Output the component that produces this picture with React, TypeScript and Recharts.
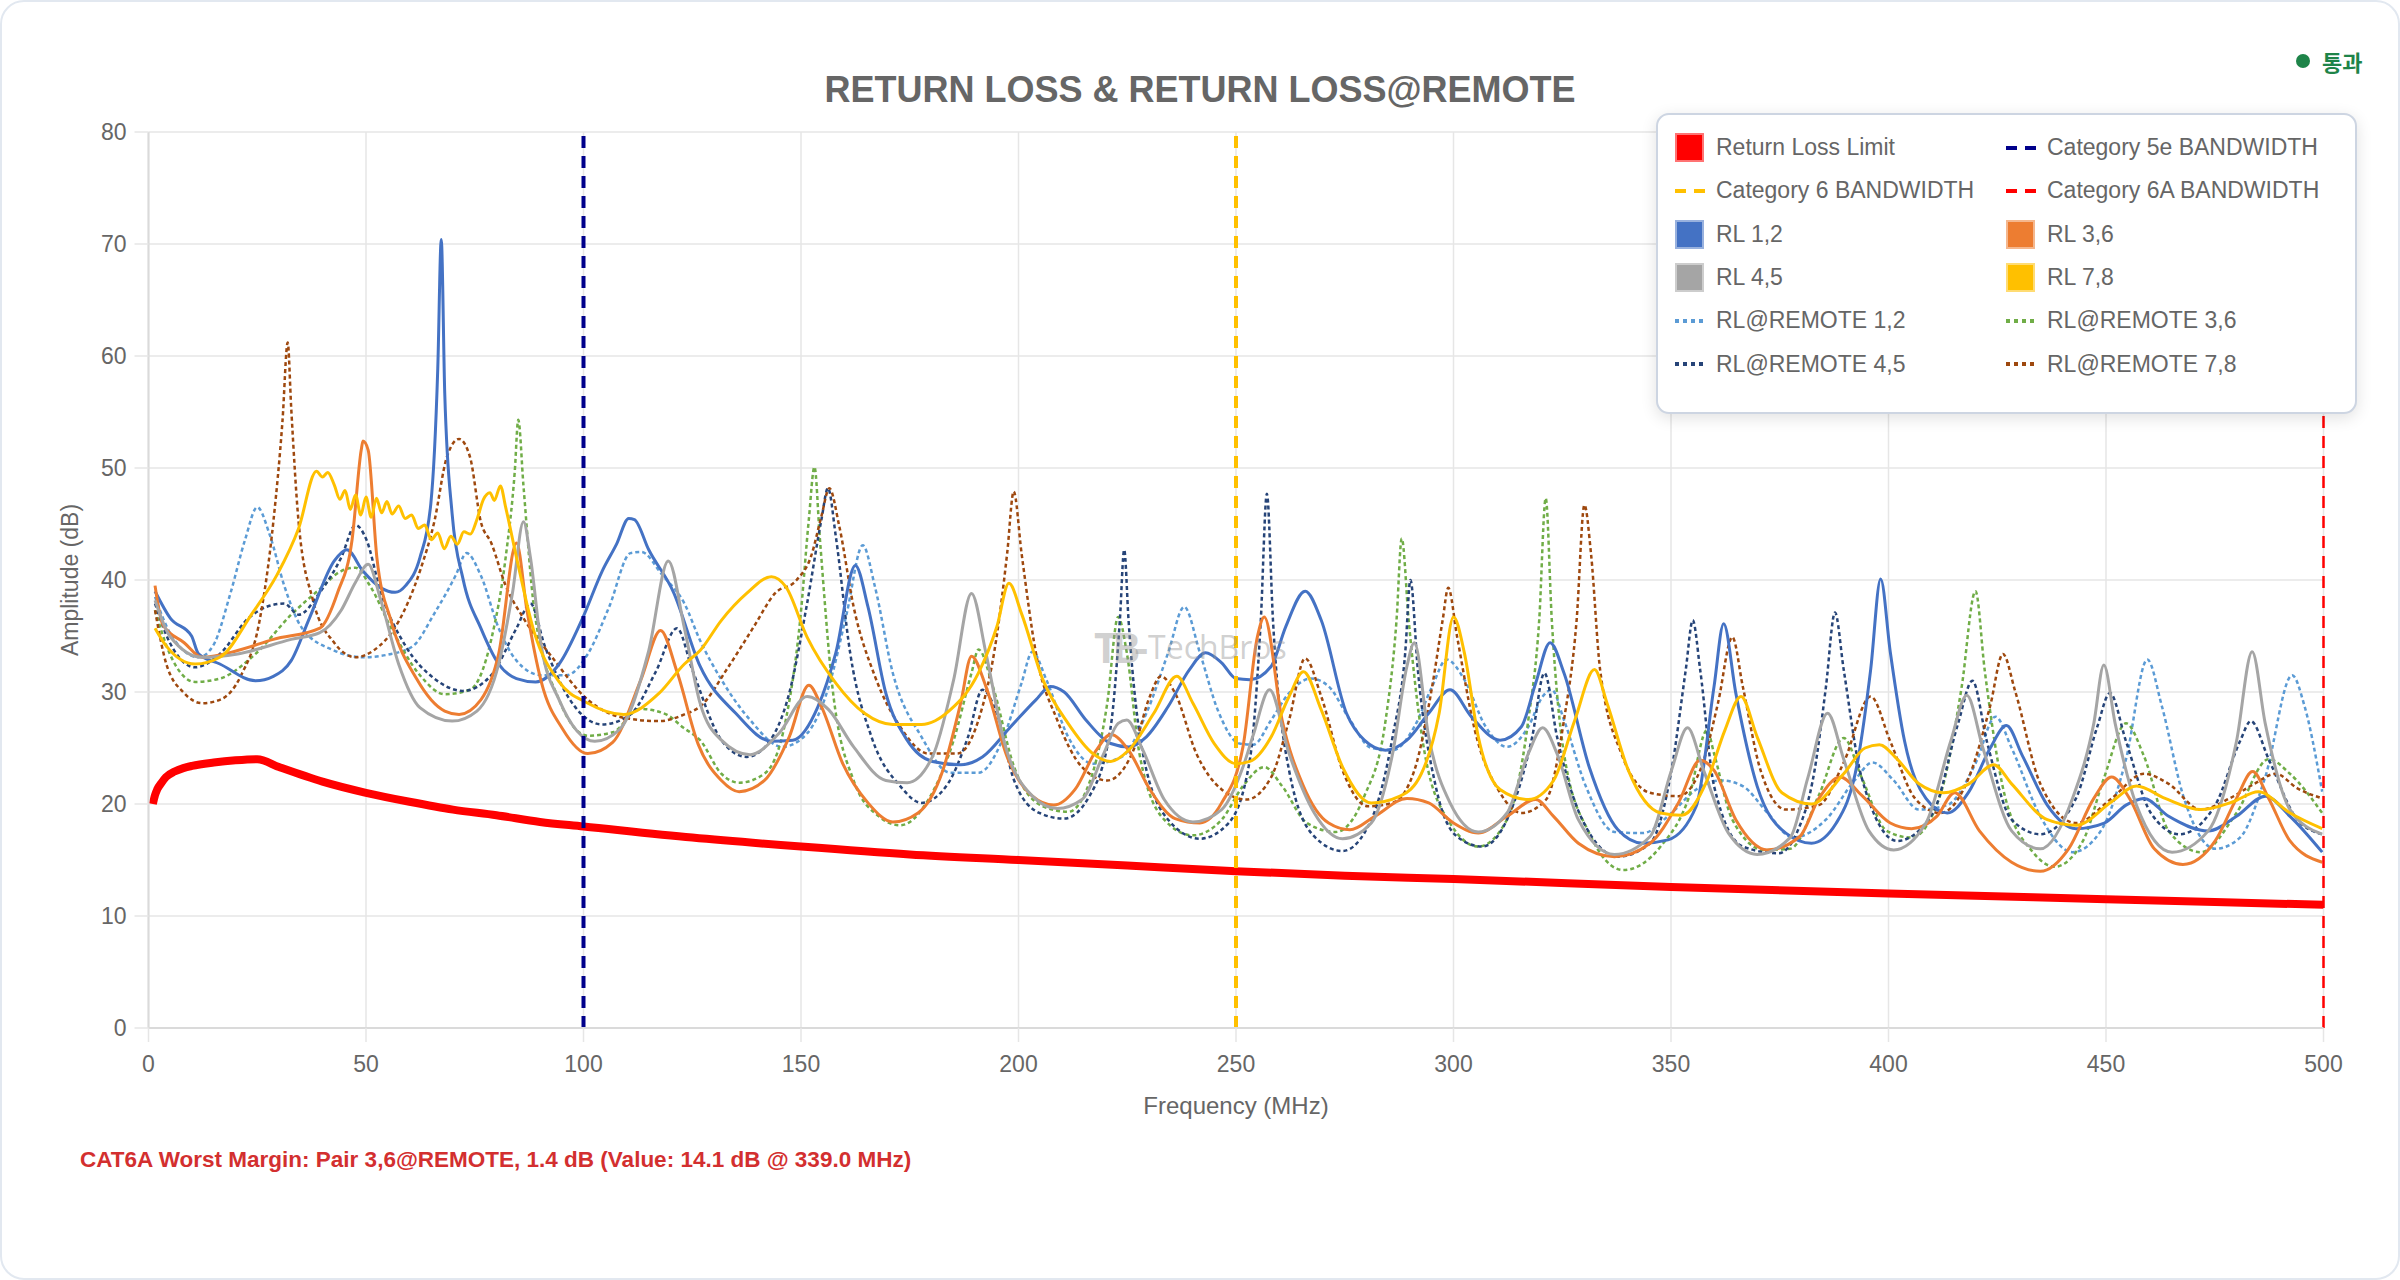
import React from 'react';
import { LineChart, Line, XAxis, YAxis, CartesianGrid, ReferenceLine, Label } from 'recharts';

type Pt = [number, number];

const FONT = '"Liberation Sans", Arial, Helvetica, sans-serif';

const freqTicks = [0, 50, 100, 150, 200, 250, 300, 350, 400, 450, 500];
const ampTicks = [0, 10, 20, 30, 40, 50, 60, 70, 80];

// frequency (MHz), amplitude (dB)
const limitLine: Pt[] = [
  [1, 20], [1.5, 20.8], [2, 21.3], [3, 21.9], [4, 22.4], [6, 22.9], [8, 23.2], [10, 23.4], [15, 23.7],
  [20, 23.9], [25, 24], [30, 23.3], [40, 22], [50, 21], [60, 20.2], [70, 19.5], [80, 19], [90, 18.4],
  [100, 18], [125, 17], [150, 16.2], [175, 15.5], [200, 15], [225, 14.5], [250, 14], [275, 13.6],
  [300, 13.3], [350, 12.6], [400, 12], [450, 11.5], [500, 11],
];

const rl12: Pt[] = [
  [1.5, 39], [5, 36.6], [9.9, 35], [11.5, 33.4], [16.4, 32.5], [24.6, 31], [28.7, 31.4], [32.8, 32.8],
  [37, 36.6], [42.7, 41.7], [45.6, 42.7], [49.3, 40.8], [53.4, 39.3], [56.7, 38.9], [59.1, 39.5],
  [62.4, 42], [64.9, 46.8], [66.5, 58.9], [67.3, 70.4], [68.1, 56.7], [69.8, 45.9], [72.3, 40.1],
  [76.4, 35.7], [80.5, 32.5], [84.6, 31.2], [89, 30.9], [94.4, 32.5], [99.8, 36.6], [104.3, 40.8],
  [107.6, 43.2], [110.4, 45.5], [111.7, 45.4], [115, 42.7], [120.7, 38.9], [126.8, 32.3], [135, 28.1],
  [143.2, 25.6], [148.1, 25.7], [153.9, 28.7], [158, 33.5], [162.5, 41.3], [165.4, 37.6], [169.5, 29.9],
  [174.4, 25.7], [180.2, 23.8], [186.7, 23.5], [191.7, 24.2], [198.2, 26.9], [204, 29.3], [207.3, 30.5],
  [210.5, 30], [215.5, 27.5], [221.2, 25.4], [225.3, 25.1], [229.4, 26], [234.4, 28.7], [239.3, 32],
  [243, 33.5], [246.7, 32.6], [250, 31.2], [253.2, 31.1], [258.1, 32.3], [261.4, 35.8], [265.9, 39],
  [269.6, 36.4], [275.4, 28.1], [279.5, 25.7], [284.4, 24.8], [289.3, 25.7], [294.3, 28.1], [299.2, 30.2],
  [304.1, 27.8], [310.7, 25.7], [315.6, 26.9], [318.9, 30.8], [322.2, 34.4], [325.4, 31.7], [331.2, 23.3],
  [337.8, 17.7], [343.5, 16.5], [349.3, 16.8], [355.8, 19.8], [359.9, 30.5], [362.1, 36.1], [364.9, 29.9],
  [369.8, 21.6], [376.4, 17.4], [382.3, 16.5], [388, 18.3], [393, 24], [395.9, 32], [398.2, 40.1],
  [400.4, 33.6], [403.7, 25.6], [408.6, 20.5], [413.5, 19.2], [418.5, 21.1], [423.4, 25], [427.1, 27],
  [430.8, 24.3], [436.5, 19.9], [443.1, 17.8], [449.6, 18.3], [454.6, 19.9], [458.7, 20.5], [464.4, 18.9],
  [473.5, 17.6], [480, 18.9], [486.6, 20.7], [492.3, 18.9], [499.7, 15.7],
];

const rl36: Pt[] = [
  [1.5, 39.5], [3.3, 36], [8.2, 34.4], [12.3, 33.1], [20.5, 33.7], [28.7, 34.7], [39.4, 35.7], [43.5, 38.9],
  [46.8, 43.6], [48.9, 51.6], [49.3, 52.4], [50.5, 51.6], [52.5, 42], [55.8, 36.3], [61.6, 31.2],
  [68.1, 28.3], [71.4, 28], [76.4, 29.3], [80.5, 33.4], [84.6, 43.3], [87, 37.3], [90.3, 30.9],
  [95.2, 26.7], [101, 24.5], [106.7, 25.5], [113.3, 31.2], [117.7, 35.5], [121.5, 31.8], [126.4, 25.3],
  [131.7, 22.1], [135.8, 21.1], [141.6, 22.1], [147.3, 26], [151.8, 30.6], [154.7, 28.7], [159.6, 23.6],
  [165.4, 20.1], [171.1, 18.4], [176.9, 19.2], [182.6, 23], [186.7, 29], [189.2, 33.2], [192.5, 30.5],
  [197.4, 24.2], [203.2, 20.7], [208.1, 19.9], [213, 21.3], [217.9, 24.8], [221.2, 26.2], [225.3, 24.8],
  [230.2, 21.3], [236, 18.7], [241.7, 18.3], [246.7, 20.1], [251.6, 25.1], [254.9, 34.9], [256.5, 36.7],
  [260.6, 27.5], [265.5, 21.6], [271.3, 18.3], [276.2, 17.7], [281.9, 18.9], [289.3, 20.5], [294.3, 20.1],
  [300, 18.3], [305.7, 17.4], [312.3, 18.9], [318.9, 20.4], [323, 18.9], [328.7, 16.5], [337, 15.3],
  [345.2, 16.5], [351.7, 20.1], [356.7, 23.9], [359.9, 23], [364.9, 18.6], [372.2, 15.9], [379.6, 17.1],
  [384, 20.5], [388.9, 22.4], [393.8, 20.8], [400.4, 18.3], [405.3, 17.8], [411.1, 18.9], [415.2, 21],
  [420.9, 17.6], [428.3, 14.8], [434.9, 14], [441.4, 16], [447.2, 20.5], [451.3, 22.4], [455.4, 20.5],
  [461.1, 16], [467.7, 14.6], [475.1, 16.7], [480, 20.5], [483.7, 22.9], [487.4, 20.5], [492.3, 16.7],
  [499.7, 14.8],
];

const rl45: Pt[] = [
  [1.5, 38.2], [4.9, 35], [12.3, 33.1], [20.5, 33.4], [32.8, 34.7], [39.4, 35.3], [44.3, 37.3], [47.6, 39.8],
  [50.5, 41.4], [53.4, 38.2], [57.5, 32.5], [62.4, 28.6], [69.8, 27.4], [75.5, 28.3], [80.5, 32.5],
  [83.7, 38.9], [86.2, 45.2], [87.8, 42], [90.3, 34.1], [94.4, 29.3], [102.6, 25.6], [108.4, 26.7],
  [115, 33.7], [119.5, 41.7], [123.2, 35.7], [126.8, 29], [131.7, 25.7], [138.3, 24.4], [144.9, 26.3],
  [151.4, 29.6], [156.4, 28.4], [162.1, 25.1], [169.5, 22.1], [174.4, 21.9], [180.2, 24.2], [185.1, 31.1],
  [189.2, 38.8], [192.5, 33.5], [196.6, 25.7], [203.2, 20.7], [208.9, 19.6], [214.6, 20.4], [219.6, 24.5],
  [222.9, 27.2], [224.9, 27.5], [228.6, 24.8], [233.5, 20.4], [240.1, 18.4], [246.7, 19.5], [251.6, 23.3],
  [254, 26.2], [257.7, 30.2], [262.2, 24.5], [268, 19.2], [274.5, 16.9], [281.1, 18.3], [286, 24.5],
  [289.3, 32.3], [291, 34.4], [294.3, 26], [299.2, 20.1], [305.7, 17.5], [312.3, 19.2], [317.2, 24.5],
  [320.5, 26.8], [323.8, 24.5], [328.7, 18.6], [337, 15.5], [345.2, 17.1], [350.1, 23], [353.8, 26.8],
  [357.5, 23], [363.2, 17.4], [369.8, 15.5], [377.4, 17], [381.5, 22.4], [386, 28.1], [389.7, 24],
  [395.5, 17.6], [401.2, 15.9], [408.6, 18.3], [414.3, 25.6], [418, 29.7], [421.7, 25], [428.3, 17.6],
  [434.9, 16], [442.3, 20.5], [447.2, 27.2], [449.5, 32.4], [452.1, 27.2], [457, 19.9], [465.2, 15.7],
  [473.5, 17.6], [480, 25.6], [483.6, 33.6], [486.6, 27.2], [492.3, 19.5], [499.7, 17.3],
];

const rl78: Pt[] = [
  [1.5, 35.7], [4.1, 34.1], [10.7, 32.5], [16.4, 33.1], [23.8, 37], [29.6, 40.5], [34.5, 44.6], [38.6, 49.7],
  [40, 49.2], [41.2, 49.6], [42.7, 48.5], [44, 47.2], [45.2, 48], [46.4, 46.3], [47.6, 47.6], [48.8, 45.8],
  [50, 47.4], [51.2, 45.6], [52.4, 47.3], [53.6, 46], [54.8, 47], [56, 45.9], [57.5, 46.6], [59, 45.5],
  [60.5, 45.8], [62, 44.6], [63.5, 44.9], [65, 43.6], [66.5, 44.2], [68, 42.8], [69.5, 43.9], [71, 43.2],
  [72.5, 44.3], [74, 44.1], [75.5, 45.4], [77, 47.2], [78.5, 47.8], [79.5, 47.1], [80.9, 48.4], [82.1, 46.5],
  [84.6, 42], [88.7, 35.3], [94.4, 30.9], [101, 29], [109.2, 28], [117.4, 29.9], [123.2, 32.5],
  [126.8, 33.7], [131.7, 36.4], [137.5, 38.8], [143.2, 40.3], [146.5, 39.4], [151.4, 34.9], [158, 30.8],
  [164.6, 28.1], [171.1, 27.1], [177.7, 27.1], [184.3, 28.4], [190.8, 31.7], [195, 35.8], [197.8, 39.7],
  [200.7, 37], [205.6, 31.1], [211.4, 27.2], [217.1, 24.5], [221.2, 23.8], [225.3, 24.8], [231.1, 28.1],
  [236.4, 31.4], [240.1, 29], [245, 25.4], [250, 23.6], [253.2, 23.8], [258.1, 26], [262.2, 29.6],
  [265.5, 31.8], [269.6, 28.4], [274.5, 23.3], [281.1, 20.1], [287.7, 20.7], [292.6, 22.7], [296.7, 28.1],
  [300, 36.7], [302.5, 33.5], [305.7, 26], [310.7, 21.3], [317.2, 20.4], [323, 22.1], [327.9, 27.5],
  [332.4, 32], [335.3, 29], [340.2, 23], [347.6, 19.2], [352.5, 19], [358.3, 22.1], [362.4, 26.6],
  [366.1, 29.6], [369.8, 26], [375.5, 21], [382.3, 20], [389.7, 22.7], [394.6, 25], [397.9, 25.3],
  [402, 24], [407, 21.8], [412.7, 21], [418.5, 21.8], [424.2, 23.5], [428.3, 21.8], [436.5, 18.6],
  [443.1, 18.1], [451.3, 20.2], [457, 21.6], [463.6, 20.5], [471.8, 19.5], [479.2, 20.2], [485, 21.1],
  [492.3, 19.2], [499.7, 17.8],
];

const remote12: Pt[] = [
  [1.5, 38.5], [4.9, 35.3], [11.5, 33.1], [14.8, 34.1], [18.9, 38.9], [22.2, 43.6], [25, 46.5], [27.9, 44],
  [31.2, 39.5], [35.3, 35.7], [42.7, 33.7], [49.3, 33.1], [55.8, 33.4], [60.8, 34.1], [65.7, 37],
  [70.6, 40.4], [73.1, 42.4], [76.4, 40.4], [80.5, 35.7], [84.6, 32.8], [90.3, 31.5], [96.1, 31.5],
  [101, 33.4], [105.9, 37.6], [110.8, 42.4], [113.3, 42.5], [118.2, 40.4], [123.2, 37.9], [126.8, 34.6],
  [131.7, 31.1], [138.3, 27.5], [145.7, 25.1], [151.4, 26.3], [156.4, 30.5], [160.5, 37], [164.2, 43.1],
  [167, 39.4], [171.1, 31.7], [177.7, 26], [184.3, 22.8], [190.8, 22.8], [196.6, 26], [200.7, 30.8],
  [203.2, 33.6], [206.4, 31.1], [211.4, 26], [217.1, 23.6], [223.7, 24.2], [229.4, 28.1], [234.4, 33.5],
  [238.1, 37.6], [241.7, 33.5], [245.8, 28.4], [250.8, 25.4], [254, 25.3], [258.1, 27.5], [262.2, 29.9],
  [267.2, 31.2], [271.3, 30.5], [276.2, 27.5], [281.1, 25], [286, 24.8], [291, 26.9], [295.1, 30.5],
  [298.4, 32.9], [302.5, 31.1], [307.4, 26.9], [312.3, 25.1], [317.2, 26.9], [320.5, 29.6], [322.6, 30.2],
  [325.4, 27.5], [330.4, 21.6], [337, 17.5], [343.5, 17.4], [350.1, 19.2], [355.8, 21.3], [361.6, 22.1],
  [366.5, 21.6], [372.2, 19.2], [378, 17], [385.6, 18.6], [392.2, 22.1], [396.3, 23.7], [401.2, 22.1],
  [407, 19.5], [413.5, 19.9], [420.1, 23.7], [424.6, 27.8], [428.3, 25], [434.9, 18.9], [442.3, 15.7],
  [448.8, 17.6], [454.6, 24], [459.5, 32.9], [462.8, 28.8], [467.7, 20.8], [475.1, 16], [480.8, 17],
  [486.6, 22.4], [492.8, 31.5], [495.6, 28.8], [499.7, 21.1],
];

const remote36: Pt[] = [
  [1.5, 37.3], [4.9, 33.4], [10.7, 30.9], [16.4, 31.2], [24.6, 33.4], [32.8, 36.9], [39.4, 39.2], [44.3, 40.8],
  [47.6, 41.1], [50.9, 39.5], [55.8, 35.7], [62.4, 31.5], [68.1, 29.8], [73.9, 30.2], [78.8, 34.7],
  [82.1, 42], [84.2, 49.7], [85, 54.3], [86.2, 48.4], [88.7, 37.3], [94.4, 29.3], [101, 26.1],
  [106.7, 26.4], [113, 28.5], [119, 28], [123, 26.8], [126.8, 25.7], [131.7, 22.7], [135.8, 21.9],
  [141.6, 22.7], [146.5, 27.5], [149.8, 36.4], [151.8, 45.4], [153.1, 50.1], [154.3, 43.9], [157.2, 30.5],
  [162.1, 22.1], [167.9, 18.9], [172.8, 18.1], [179.3, 20.4], [185.1, 25.7], [189.2, 31.7], [190.8, 33.8],
  [194.1, 30.5], [199, 23.3], [205.6, 19.8], [211.4, 19.3], [216.3, 21.9], [220.4, 29], [222.9, 36.7],
  [224.9, 33.5], [227.8, 24.5], [233.5, 18.6], [240.1, 17.2], [246.7, 18.6], [251.6, 21.6], [256.5, 23.3],
  [260.6, 21.6], [266.3, 18.3], [272.9, 17.5], [279.5, 20.7], [284.4, 27.5], [286.9, 36.4], [288.1, 43.7],
  [289.7, 36.4], [293.4, 24.5], [299.2, 18.3], [305.7, 16.2], [312.3, 18.6], [317.2, 27.5], [319.7, 36.4],
  [321.2, 47.3], [322.6, 36.4], [325.4, 24.5], [331.2, 17.4], [339, 14.1], [347.6, 16.2], [354.2, 20.7],
  [358.3, 26.6], [359.9, 24.5], [364.1, 18.6], [371.4, 15.9], [377.4, 16], [384, 20.8], [389.7, 25.9],
  [393.8, 22.4], [399.6, 17.6], [405.3, 17], [411.9, 20.8], [416.8, 30.4], [420, 39], [422.1, 32],
  [426.7, 20.8], [433.2, 15.7], [438.2, 14.4], [444.7, 16.7], [449.6, 22.4], [454.6, 27.2], [458.7, 24.3],
  [464.4, 17.6], [471.8, 15.7], [480, 19.2], [487.4, 24], [492.3, 22.7], [499.7, 19.2],
];

const remote45: Pt[] = [
  [1.5, 37.9], [4.9, 34.4], [10.7, 32.2], [16.4, 33.4], [23, 36.6], [27.1, 37.6], [31.2, 37.9], [34.5, 36.9],
  [39.4, 38.9], [44.3, 42], [47.6, 44.9], [50.1, 43.6], [53.4, 38.9], [59.1, 34.1], [65.7, 31.2],
  [72.3, 30.1], [78.8, 31.5], [84.6, 35.7], [87.8, 37.9], [91.1, 34.1], [96.9, 29.3], [104.3, 27.1],
  [110.8, 28], [116.6, 31.8], [121.5, 35.7], [125, 32], [131.7, 25.7], [137.5, 24.2], [142.4, 25.4],
  [147.3, 29.9], [151.4, 37.9], [154.7, 45.4], [156.2, 48.2], [158, 43.9], [161.3, 33.5], [166.2, 26],
  [172.8, 21.6], [177.7, 20.1], [183.4, 21.6], [188.4, 26], [191.7, 30.2], [195, 28.1], [199, 22.1],
  [204.8, 19.2], [210.5, 18.7], [216.3, 20.7], [221.2, 26.9], [223.3, 36.4], [224.3, 42.7], [225.3, 36.4],
  [228.6, 24.5], [234.4, 18.6], [241.7, 16.9], [248.3, 18.3], [253.2, 24], [255.7, 36.4], [257.1, 47.7],
  [258.5, 36.4], [262.2, 23], [268, 17.1], [274.5, 15.8], [281.1, 18.6], [286, 26], [288.9, 33.5],
  [290.1, 40], [291.8, 32], [295.9, 21.6], [300.8, 17.1], [306.6, 16.2], [312.3, 18.6], [318.1, 26],
  [320.9, 31.7], [323.8, 26], [329.6, 18.6], [337.8, 15.3], [345.2, 16.5], [350.1, 23], [353.4, 32],
  [355, 36.4], [356.7, 32], [359.9, 21.6], [366.5, 16.2], [374.7, 15.6], [379, 17.5], [383, 23],
  [385.6, 30.4], [387.7, 37.1], [389.7, 32], [393.8, 22.4], [402, 16.7], [410.2, 19.2], [416, 27.2],
  [419.3, 31], [422.6, 25.6], [428.3, 18.6], [434.9, 17.3], [443.1, 20.5], [448, 26.9], [450.9, 29.9],
  [454.6, 25.6], [460.3, 19.2], [466.9, 17.3], [475.1, 19.9], [480.8, 25.6], [483.3, 27.4], [487.4, 24],
  [494, 18.6], [499.7, 17.3],
];

const remote78: Pt[] = [
  [1.5, 37.3], [4.1, 32.5], [8.2, 29.9], [12.3, 29], [16.4, 29.3], [21.3, 31.5], [25.5, 36.3], [28.7, 45.2],
  [30.8, 54.2], [32, 61.2], [32.8, 55.4], [34.5, 45.2], [37.8, 38.2], [42.7, 34.4], [47.6, 33.1],
  [51.7, 33.7], [57.5, 36.3], [62.4, 40.8], [65.7, 45.2], [68.6, 51], [71.4, 52.6], [73.9, 51],
  [76.4, 45.2], [78.8, 43.3], [82.1, 39.5], [86.2, 36.6], [92.8, 33.1], [101, 29.3], [109.2, 27.7],
  [117.4, 27.4], [123.2, 28], [126.8, 28.7], [133.4, 32.3], [139.1, 35.8], [144, 38.8], [149, 40],
  [152.3, 42.1], [154.7, 45.7], [156.5, 48.2], [158.8, 44.8], [162.1, 37.6], [167, 31.4], [172.8, 26.9],
  [179.3, 24.5], [185.9, 24.5], [190.8, 27.5], [195, 35], [197.4, 42.4], [198.9, 47.9], [200.7, 42.4],
  [204, 33.5], [208.9, 27.5], [214.6, 23.3], [220.4, 22.1], [226.1, 24.5], [230.2, 29.6], [232.7, 31.4],
  [236, 29.9], [240.9, 24.5], [246.7, 21.3], [252.4, 20.4], [258.1, 22.4], [262.2, 27.5], [265.9, 33],
  [269.6, 29.6], [274.5, 23], [280.3, 19.8], [286, 20.1], [291, 23], [295.1, 30.5], [297.5, 36.4],
  [298.8, 39.3], [300.8, 35], [304.9, 26.6], [310.7, 21], [315.6, 19.2], [321.3, 20.4], [325.4, 27.5],
  [328.3, 36.4], [330.1, 46.7], [331.6, 42.4], [333.7, 32], [338.6, 24.5], [345.2, 21], [351.7, 20.7],
  [356.7, 23], [360.8, 29], [364.1, 34.9], [366.5, 30.5], [370.6, 23], [376.4, 19.5], [384, 19.9],
  [389.7, 23.7], [395.9, 29.6], [400.4, 25.6], [406.1, 20.5], [411.9, 19.2], [418.5, 22.4], [423.4, 28.8],
  [426.3, 33.4], [429.1, 30.1], [434.9, 21.8], [443.1, 18.3], [451.3, 20.5], [458.7, 22.7], [464.4, 21.8],
  [471.8, 19.5], [478.4, 20.5], [484.1, 21.8], [489, 22.7], [494, 21.4], [499.7, 20.5],
];

const bandwidths = [
  { name: 'Category 5e BANDWIDTH', f: 100, color: '#00008B' },
  { name: 'Category 6 BANDWIDTH', f: 250, color: '#FFC000' },
  { name: 'Category 6A BANDWIDTH', f: 500, color: '#FF0000' },
];

type Icon = 'box' | 'dash' | 'dot';
interface Series {
  name: string;
  data: Pt[];
  color: string;
  width: number;
  dash?: string;
  icon: Icon;
}

const measured: Series[] = [
  { name: 'RL@REMOTE 1,2', data: remote12, color: '#5B9BD5', width: 2.5, dash: '4 3', icon: 'dot' },
  { name: 'RL@REMOTE 3,6', data: remote36, color: '#70AD47', width: 2.5, dash: '4 3', icon: 'dot' },
  { name: 'RL@REMOTE 4,5', data: remote45, color: '#264478', width: 2.5, dash: '4 3', icon: 'dot' },
  { name: 'RL@REMOTE 7,8', data: remote78, color: '#9E480E', width: 2.5, dash: '4 3', icon: 'dot' },
  { name: 'RL 1,2', data: rl12, color: '#4472C4', width: 3, icon: 'box' },
  { name: 'RL 3,6', data: rl36, color: '#ED7D31', width: 3, icon: 'box' },
  { name: 'RL 4,5', data: rl45, color: '#A5A5A5', width: 3, icon: 'box' },
  { name: 'RL 7,8', data: rl78, color: '#FFC000', width: 3, icon: 'box' },
];

const limit: Series = { name: 'Return Loss Limit', data: limitLine, color: '#FF0000', width: 8, icon: 'box' };

const legendItems: { name: string; color: string; icon: Icon }[] = [
  { name: limit.name, color: limit.color, icon: 'box' },
  { name: bandwidths[0].name, color: bandwidths[0].color, icon: 'dash' },
  { name: bandwidths[1].name, color: bandwidths[1].color, icon: 'dash' },
  { name: bandwidths[2].name, color: bandwidths[2].color, icon: 'dash' },
  ...['RL 1,2', 'RL 3,6', 'RL 4,5', 'RL 7,8', 'RL@REMOTE 1,2', 'RL@REMOTE 3,6', 'RL@REMOTE 4,5', 'RL@REMOTE 7,8'].map(
    (n) => {
      const s = measured.find((m) => m.name === n)!;
      return { name: s.name, color: s.color, icon: s.icon };
    }
  ),
];

const rows = (pts: Pt[]) => pts.map(([f, v]) => ({ f, v }));

const LegendIcon = ({ icon, color }: { icon: Icon; color: string }) => {
  if (icon === 'box') {
    return (
      <div
        style={{
          width: 29,
          height: 29,
          boxSizing: 'border-box',
          background: color,
          border: '2px solid rgba(255,255,255,0.45)',
        }}
      />
    );
  }
  return (
    <svg width={30} height={8}>
      <line
        x1={0}
        y1={4}
        x2={30}
        y2={4}
        stroke={color}
        strokeWidth={4}
        strokeDasharray={icon === 'dash' ? '11 8' : '4 4'}
      />
    </svg>
  );
};

const ChartLegend = () => (
  <div
    style={{
      position: 'absolute',
      left: 1656,
      top: 113,
      width: 701,
      height: 301,
      boxSizing: 'border-box',
      background: '#fff',
      border: '2px solid #cdd5e2',
      borderRadius: 13,
      boxShadow: '0 4px 16px rgba(0,0,0,0.12)',
    }}
  >
    {legendItems.map((item, i) => {
      const col = i % 2;
      const row = Math.floor(i / 2);
      return (
        <div
          key={item.name}
          style={{
            position: 'absolute',
            left: col === 0 ? 17 : 348,
            top: 32.5 + row * 43.3 - 16,
            height: 32,
            display: 'flex',
            alignItems: 'center',
            whiteSpace: 'nowrap',
          }}
        >
          <div style={{ width: 41, display: 'flex', alignItems: 'center' }}>
            <LegendIcon icon={item.icon} color={item.color} />
          </div>
          <span style={{ fontSize: 23, color: '#666', fontFamily: FONT }}>{item.name}</span>
        </div>
      );
    })}
  </div>
);

const YTitle = (props: any) => {
  const vb = props.viewBox || { x: 68.5, y: 132, width: 80, height: 896 };
  const cx = vb.x + 1.5;
  const cy = vb.y + vb.height / 2;
  return (
    <text
      x={cx}
      y={cy}
      transform={`rotate(-90 ${cx} ${cy})`}
      textAnchor="middle"
      dominantBaseline="central"
      fill="#666"
      fontSize={23}
      fontFamily={FONT}
    >
      Amplitude (dB)
    </text>
  );
};

const XTitle = (props: any) => {
  const vb = props.viewBox || { x: 148.5, y: 1028, width: 2175, height: 90 };
  return (
    <text
      x={vb.x + vb.width / 2}
      y={vb.y + 77}
      textAnchor="middle"
      dominantBaseline="central"
      fill="#666"
      fontSize={24}
      fontFamily={FONT}
    >
      Frequency (MHz)
    </text>
  );
};

const ReturnLossChart: React.FC = () => {
  return (
    <div style={{ position: 'absolute', left: 0, top: 0, width: 2400, height: 1280, fontFamily: FONT }}>
      <div
        style={{
          position: 'absolute',
          left: 0,
          top: 0,
          width: 2400,
          height: 1280,
          boxSizing: 'border-box',
          border: '2px solid #e2e8f0',
          borderRadius: 24,
          background: '#fff',
        }}
      />

      <div style={{ position: 'absolute', left: 0, top: 0 }}>
        <LineChart width={2400} height={1280} margin={{ top: 132, right: 76.5, bottom: 162, left: 68.5 }}>
          <CartesianGrid stroke="#e6e6e6" strokeWidth={1.5} />
          <XAxis
            type="number"
            dataKey="f"
            domain={[0, 500]}
            ticks={freqTicks}
            allowDataOverflow
            height={90}
            tickSize={14}
            tickMargin={14}
            axisLine={{ stroke: '#dadada', strokeWidth: 2 }}
            tickLine={{ stroke: '#e6e6e6', strokeWidth: 1.5 }}
            tick={{ fill: '#666', fontSize: 23, fontFamily: FONT }}
          >
            <Label content={XTitle} />
          </XAxis>
          <YAxis
            type="number"
            domain={[0, 80]}
            ticks={ampTicks}
            allowDataOverflow
            width={80}
            tickSize={14}
            tickMargin={8}
            axisLine={{ stroke: '#dadada', strokeWidth: 2 }}
            tickLine={{ stroke: '#e6e6e6', strokeWidth: 1.5 }}
            tick={{ fill: '#666', fontSize: 23, fontFamily: FONT }}
          >
            <Label content={YTitle} />
          </YAxis>

          {measured.map((s) => (
            <Line
              key={s.name}
              name={s.name}
              data={rows(s.data)}
              dataKey="v"
              type="monotone"
              stroke={s.color}
              strokeWidth={s.width}
              strokeDasharray={s.dash}
              dot={false}
              activeDot={false}
              isAnimationActive={false}
            />
          ))}
          <Line
            name={limit.name}
            data={rows(limit.data)}
            dataKey="v"
            type="monotone"
            stroke={limit.color}
            strokeWidth={limit.width}
            dot={false}
            activeDot={false}
            isAnimationActive={false}
          />

          {bandwidths.map((b) => (
            <ReferenceLine
              key={b.name}
              x={b.f}
              stroke={b.color}
              strokeWidth={b.f === 500 ? 2.5 : 4}
              strokeDasharray="12 8"
              ifOverflow="extendDomain"
            />
          ))}
        </LineChart>
      </div>

      {/* watermark */}
      <div
        style={{
          position: 'absolute',
          left: 1094,
          top: 618,
          display: 'flex',
          alignItems: 'center',
          gap: 6,
          color: 'rgba(150,150,150,0.45)',
          fontFamily: '"Open Sans", "Noto Sans", sans-serif',
          pointerEvents: 'none',
        }}
      >
        <span style={{ fontSize: 42, fontWeight: 700, letterSpacing: -6 }}>TB-</span>
        <span style={{ fontSize: 32 }}>TechBros</span>
      </div>

      <div
        style={{
          position: 'absolute',
          left: 0,
          top: 72,
          width: 2400,
          textAlign: 'center',
          fontSize: 36,
          lineHeight: '36px',
          fontWeight: 700,
          color: '#666',
        }}
      >
        RETURN LOSS &amp; RETURN LOSS@REMOTE
      </div>

      <div
        style={{
          position: 'absolute',
          left: 2296,
          top: 50,
          display: 'flex',
          alignItems: 'center',
          height: 22,
          gap: 12,
        }}
      >
        <div style={{ width: 14, height: 14, borderRadius: 7, background: '#1e8449' }} />
        <span
          style={{
            fontSize: 22,
            lineHeight: '22px',
            fontWeight: 700,
            color: '#1e8449',
            fontFamily: '"Noto Sans CJK KR", "Noto Sans", sans-serif',
          }}
        >
          통과
        </span>
      </div>

      <ChartLegend />

      <div
        style={{
          position: 'absolute',
          left: 80,
          top: 1149,
          fontSize: 22.5,
          lineHeight: '22px',
          fontWeight: 700,
          color: '#d32f2f',
          whiteSpace: 'nowrap',
        }}
      >
        CAT6A Worst Margin: Pair 3,6@REMOTE, 1.4 dB (Value: 14.1 dB @ 339.0 MHz)
      </div>
    </div>
  );
};

export default function App() {
  return <ReturnLossChart />;
}
